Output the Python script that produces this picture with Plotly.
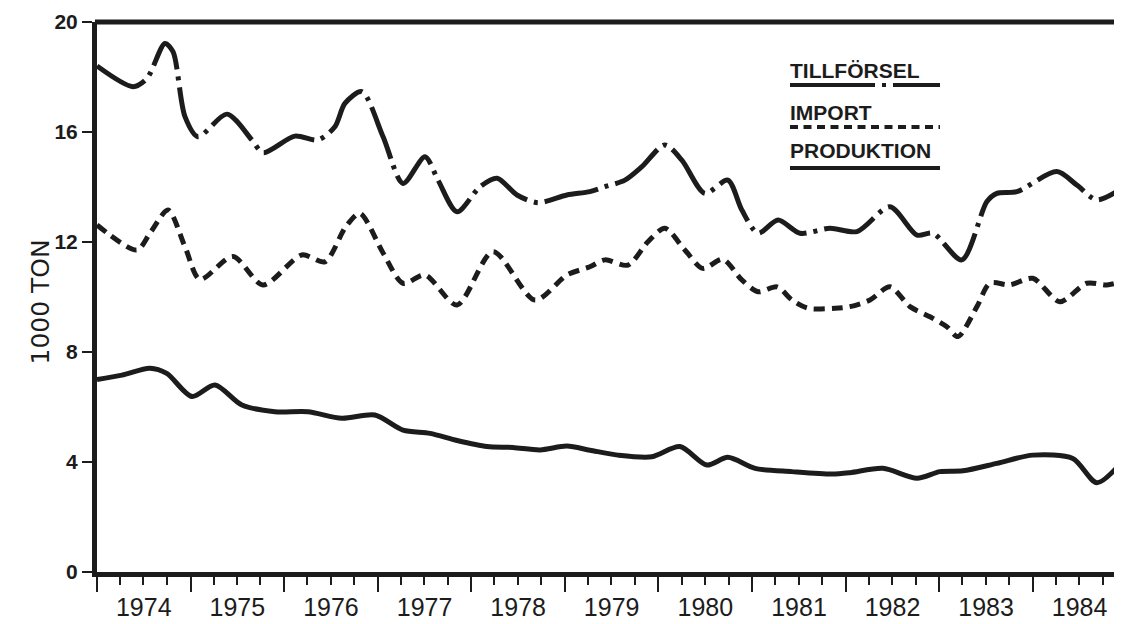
import plotly.graph_objects as go
import pandas as pd

# time in decimal years, values in 1000 ton
t_tillforsel = [1974.00, 1974.385, 1974.534, 1974.726, 1974.812, 1974.940, 1975.079, 1975.389,
                1975.656, 1975.774, 1976.115, 1976.361, 1976.543, 1976.650, 1976.831, 1977.056,
                1977.269, 1977.504, 1977.643, 1977.846, 1978.092, 1978.274, 1978.487, 1978.712,
                1979.021, 1979.267, 1979.427, 1979.641, 1979.823, 1980.068, 1980.250, 1980.496,
                1980.741, 1980.891, 1981.062, 1981.276, 1981.511, 1981.831, 1982.120, 1982.472,
                1982.761, 1982.932, 1983.241, 1983.509, 1983.615, 1983.829, 1984.256, 1984.470,
                1984.684, 1984.951]
tillforsel = [18.40, 17.65, 17.95, 19.22, 18.92, 16.56, 15.83, 16.65,
              15.71, 15.25, 15.85, 15.71, 16.19, 17.04, 17.47, 15.83,
              14.13, 15.10, 14.25, 13.10, 14.01, 14.32, 13.71, 13.43,
              13.71, 13.83, 14.01, 14.25, 14.74, 15.53, 14.98, 13.77,
              14.25, 13.16, 12.32, 12.80, 12.32, 12.50, 12.38, 13.28,
              12.25, 12.32, 11.35, 13.47, 13.77, 13.83, 14.56, 14.07,
              13.53, 13.95]

t_import = [1974.00, 1974.427, 1974.566, 1974.759, 1974.940, 1975.100, 1975.453, 1975.774,
            1976.190, 1976.436, 1976.660, 1976.810, 1977.056, 1977.269, 1977.504, 1977.846,
            1978.231, 1978.679, 1979.021, 1979.267, 1979.427, 1979.673, 1979.887, 1980.068,
            1980.282, 1980.474, 1980.688, 1980.891, 1981.062, 1981.265, 1981.425, 1981.596,
            1981.885, 1982.045, 1982.259, 1982.472, 1982.686, 1982.900, 1983.081, 1983.199,
            1983.402, 1983.541, 1983.754, 1984.000, 1984.288, 1984.577, 1984.791, 1984.951]
imports = [12.62, 11.71, 12.32, 13.16, 11.83, 10.64, 11.47, 10.44,
           11.53, 11.28, 12.56, 13.04, 11.60, 10.50, 10.80, 9.71,
           11.65, 9.89, 10.80, 11.10, 11.35, 11.16, 12.01, 12.50,
           11.71, 11.04, 11.37, 10.62, 10.19, 10.37, 9.89, 9.59,
           9.59, 9.65, 9.89, 10.37, 9.65, 9.28, 8.92, 8.56,
           9.65, 10.50, 10.44, 10.68, 9.83, 10.50, 10.44, 10.56]

t_produktion = [1974.00, 1974.267, 1974.566, 1974.745, 1975.015, 1975.261, 1975.549, 1975.902,
                1976.254, 1976.618, 1976.970, 1977.269, 1977.558, 1977.846, 1978.167, 1978.444,
                1978.733, 1979.021, 1979.267, 1979.566, 1979.929, 1980.229, 1980.517, 1980.741,
                1981.030, 1981.425, 1981.853, 1982.045, 1982.397, 1982.761, 1983.006, 1983.252,
                1983.615, 1984.000, 1984.427, 1984.684, 1984.951]
produktion = [7.00, 7.16, 7.41, 7.22, 6.38, 6.80, 6.07, 5.83,
              5.83, 5.59, 5.71, 5.16, 5.04, 4.78, 4.56, 4.53,
              4.44, 4.58, 4.43, 4.25, 4.19, 4.56, 3.89, 4.17,
              3.77, 3.65, 3.56, 3.61, 3.77, 3.41, 3.65, 3.68,
              3.95, 4.25, 4.13, 3.25, 4.00]

legend_names = ["TILLFÖRSEL", "IMPORT", "PRODUKTION"]
y_ticks = [0, 4, 8, 12, 16, 20]

INK = "#1c1c1c"
FONT = "Liberation Sans, Arial, sans-serif"
DASH_T = "55px,7px,4px,7px"
DASH_I = "11px,7px"


def to_dates(ts):
    out = []
    for t in ts:
        y = int(t)
        out.append(pd.Timestamp(year=y, month=1, day=1) + pd.Timedelta(days=(t - y) * 365.25))
    return out


fig = go.Figure()
for ts, vals, dash in [(t_tillforsel, tillforsel, DASH_T),
                       (t_import, imports, DASH_I),
                       (t_produktion, produktion, "solid")]:
    fig.add_trace(go.Scatter(x=to_dates(ts), y=vals, mode="lines",
                             line=dict(color=INK, width=5, dash=dash, shape="spline", smoothing=0.8),
                             showlegend=False, hoverinfo="skip"))

# the page body adds an 8px offset, so the figure is 8px smaller than the window
OFF = 8
W, H = 1122 - OFF, 624 - OFF
L, R, T, B = 97 - OFF, 0, 22 - OFF, 52
pw, ph = W - L - R, H - T - B


def px(x):
    return (x - 97) / pw


def py(y):
    return (572 - y) / ph


fig.update_layout(
    width=W, height=H,
    margin=dict(l=L, r=R, t=T, b=B, autoexpand=False),
    paper_bgcolor="white", plot_bgcolor="white",
    font=dict(family=FONT, color=INK),
)

fig.update_xaxes(
    type="date", range=["1974-01-01", "1984-12-14"], automargin=False,
    dtick="M12", tick0="1974-01-01", tickformat="%Y", ticklabelmode="period",
    ticks="outside", ticklen=15, tickwidth=2, tickcolor=INK, ticklabelstandoff=-6,
    minor=dict(dtick="M3", ticks="outside", ticklen=8, tickwidth=2, tickcolor=INK, showgrid=False),
    showgrid=False, zeroline=False,
    showline=True, linecolor=INK, linewidth=5, mirror=False,
    tickfont=dict(size=25, color=INK, family=FONT),
)
fig.update_yaxes(
    range=[0, 20], tickvals=y_ticks, automargin=False,
    ticks="outside", ticklen=10, tickwidth=2, tickcolor=INK,
    showgrid=False, zeroline=False,
    showline=True, linecolor=INK, linewidth=5,
    tickfont=dict(size=21, color=INK, family=FONT, weight="bold"),
)

# heavy top frame line
fig.add_shape(type="line", xref="paper", yref="paper", x0=-0.002, x1=1, y0=1, y1=1,
              line=dict(color=INK, width=5))

# y axis title
fig.add_annotation(text="1000 TON", xref="paper", yref="paper", x=px(24), y=py(302),
                   textangle=-90, showarrow=False,
                   font=dict(size=25, color=INK, family="DejaVu Sans, sans-serif"))

# hand-drawn style legend: text with line sample underneath
leg_text_y = [70, 113, 150]
leg_line_y = [85, 127, 168]
leg_dash = [DASH_T.replace("55px", "85px"), "8px,5.5px", "solid"]
for name, ty, ly, d in zip(legend_names, leg_text_y, leg_line_y, leg_dash):
    fig.add_annotation(text=name, xref="paper", yref="paper", x=px(788), y=py(ty),
                       xanchor="left", yanchor="middle", showarrow=False,
                       font=dict(size=21, color=INK, family=FONT, weight=600))
    fig.add_shape(type="line", xref="paper", yref="paper", x0=px(790), x1=px(940),
                  y0=py(ly), y1=py(ly), line=dict(color=INK, width=4, dash=d))

fig.write_html("out.html")
